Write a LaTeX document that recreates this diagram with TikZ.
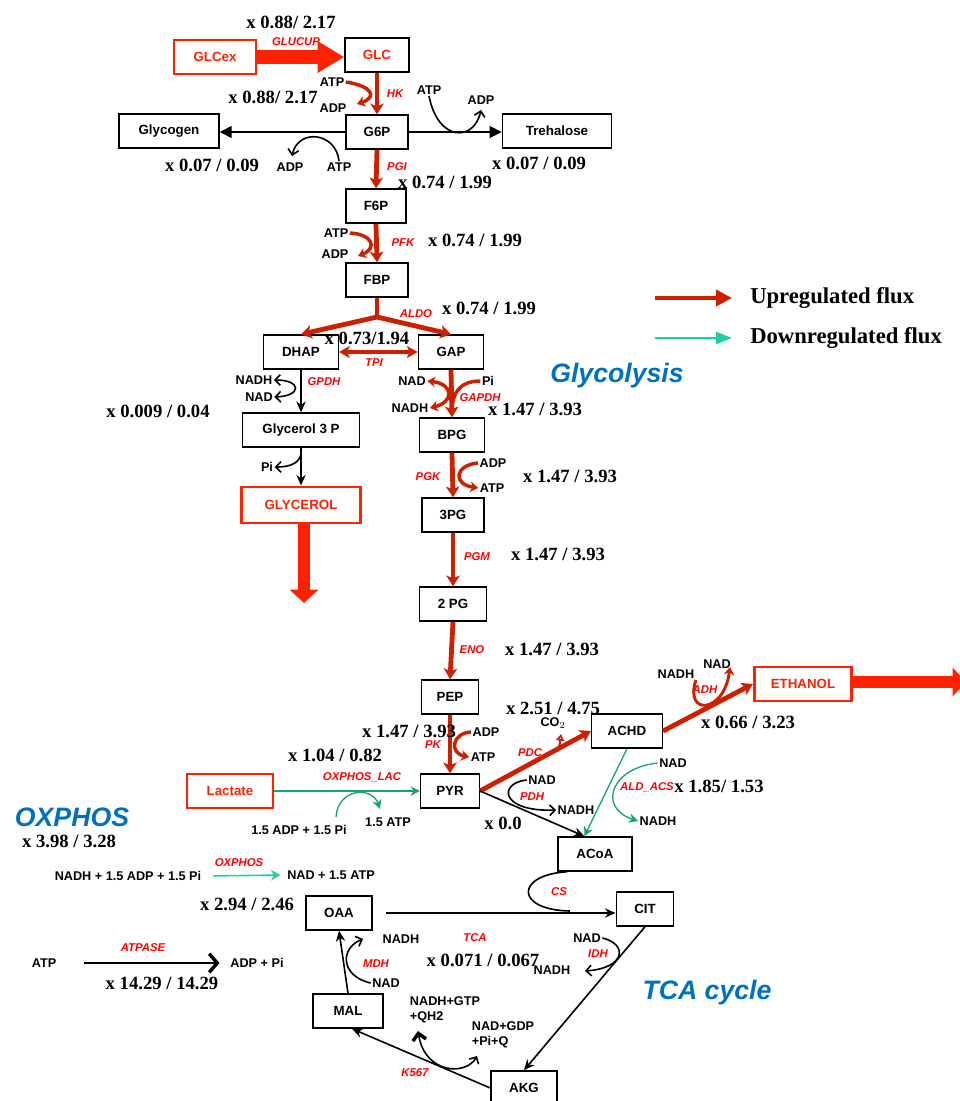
\documentclass[tikz,border=0pt]{standalone}
\usepackage{fontspec}
\setmainfont{Liberation Serif}
\setsansfont{Liberation Sans}
\usetikzlibrary{arrows.meta,calc}
\definecolor{upred}{RGB}{204,32,0}
\definecolor{outred}{RGB}{255,34,0}
\definecolor{enzred}{RGB}{255,0,0}
\definecolor{dnteal}{RGB}{22,163,122}
\definecolor{legteal}{RGB}{30,208,160}
\definecolor{titleblue}{RGB}{0,112,192}
\tikzset{
  met/.style={draw,line width=1.1pt,minimum height=25.5pt,inner sep=0pt,
    font=\sffamily\bfseries\fontsize{10}{12}\selectfont},
  ext/.style={met,draw=outred,line width=2.2pt,text=outred},
  flx/.style={font=\bfseries\fontsize{14}{16}\selectfont,inner sep=0pt},
  enz/.style={text=enzred,font=\sffamily\bfseries\itshape\fontsize{8.5}{9}\selectfont,inner sep=0pt},
  cof/.style={font=\sffamily\bfseries\fontsize{9.5}{11}\selectfont,inner sep=1pt},
  title/.style={text=titleblue,font=\sffamily\bfseries\itshape\fontsize{20}{24}\selectfont},
  legtext/.style={font=\bfseries\fontsize{17}{20}\selectfont,anchor=west,inner sep=0pt},
  up/.style={draw=upred,line width=3.6pt,-{Stealth[length=8pt,width=10pt,inset=2pt]}},
  upside/.style={draw=upred,line width=2.6pt,-{Stealth[length=6pt,width=8pt,inset=2pt]}},
  dn/.style={draw=dnteal,line width=1pt,-{Stealth[length=7pt,width=7pt]}},
  blk/.style={draw=black,line width=1.2pt,-{Stealth[length=8pt,width=7pt]}},
  blkside/.style={draw=black,line width=1.2pt,-{Straight Barb[length=4pt,width=8pt]}},
  fatarrow/.style={draw=outred,line width=9.5pt,-{Triangle[length=10pt,width=21pt]}}
}
\begin{document}
\begin{tikzpicture}[x=0.75pt,y=-0.75pt]
  \useasboundingbox (0,0) rectangle (960,1101);

  % Metabolites
  \node[ext,minimum width=61.5pt] (glcex) at (215,57) {GLCex};
  \node[met,minimum width=48pt,text=outred] (glc) at (377,55) {GLC};
  \node[met,minimum width=46.5pt] (g6p) at (377,132) {G6P};
  \node[met,minimum width=75pt] (glycogen) at (169,131) {Glycogen};
  \node[met,minimum width=82pt] (trehalose) at (557,131) {Trehalose};
  \node[met,minimum width=45pt] (f6p) at (376,206) {F6P};
  \node[met,minimum width=46.5pt] (fbp) at (377,280) {FBP};
  \node[met,minimum width=56pt] (dhap) at (301,352) {DHAP};
  \node[met,minimum width=49pt] (gap) at (451,352) {GAP};
  \node[met,minimum width=88pt] (g3p) at (301,430) {Glycerol 3 P};
  \node[ext,minimum width=89pt,minimum height=27pt] (glycerol) at (301,505) {GLYCEROL};
  \node[met,minimum width=49pt] (bpg) at (452,435) {BPG};
  \node[met,minimum width=46.5pt] (pg3) at (453,515) {3PG};
  \node[met,minimum width=50pt] (pg2) at (453,604) {2 PG};
  \node[met,minimum width=43pt] (pep) at (450,697) {PEP};
  \node[met,minimum width=44pt] (pyr) at (450,791) {PYR};
  \node[met,minimum width=53pt] (achd) at (627,731) {ACHD};
  \node[ext,minimum width=73pt] (ethanol) at (803,684) {ETHANOL};
  \node[met,minimum width=55.5pt] (acoa) at (595,854) {ACoA};
  \node[met,minimum width=43pt] (cit) at (645,909) {CIT};
  \node[met,minimum width=49.5pt] (oaa) at (339,913) {OAA};
  \node[met,minimum width=52.5pt] (mal) at (348,1011) {MAL};
  \node[met,minimum width=49.5pt] (akg) at (524,1088) {AKG};
  \node[ext,minimum width=64.5pt] (lactate) at (230,791) {Lactate};

  % Titles
  \node[title] (glytitle) at (617,376) {Glycolysis};
  \node[title] (oxtitle) at (72,817) {OXPHOS};
  \node[title] (tcatitle) at (707,993) {TCA cycle};

  % Legend
  \coordinate (legupa) at (655,298);
  \coordinate (legupb) at (732,298);
  \coordinate (legdna) at (655,338);
  \coordinate (legdnb) at (732,338);
  \draw[upred,line width=3.7pt,-{Triangle[length=12pt,width=12pt]}] (legupa) -- (legupb);
  \draw[legteal,line width=1.6pt,-{Triangle[length=12pt,width=9pt]}] (legdna) -- (legdnb);
  \node[legtext] (legup) at (750,298) {Upregulated flux};
  \node[legtext] (legdn) at (750,338) {Downregulated flux};

  % Uptake and export
  \draw[draw=outred,line width=10.5pt,-{Triangle[length=20pt,width=22.5pt]}] (glcex.east) -- (glcex.east -| glc.west);
  \node[enz] (glucup) at (296,42) {GLUCUP};
  \node[flx] at (291,22) {x 0.88/ 2.17};
  \coordinate (glyout) at (304,603);
  \draw[fatarrow] (glycerol.south -| glyout) -- (glyout);
  \coordinate (ethout) at (966,682);
  \draw[fatarrow] (ethanol.east |- ethout) -- (ethout);

  % HK
  \draw[up] (glc.south) -- (g6p.north);
  \node[cof] (hkatp) at (332,82) {ATP};
  \node[cof] (hkadp) at (333,108) {ADP};
  \draw[upside] (hkatp.east) .. controls (372,86) and (378,97) .. (357,104);
  \node[enz] at (395,94) {HK};
  \node[flx] at (273,97) {x 0.88/ 2.17};

  % Glycogen
  \draw[draw=black,line width=1.2pt,-{Triangle[length=9pt,width=9pt]}] (g6p.west) -- (g6p.west -| glycogen.east);
  \node[cof] (gyadp) at (290,167) {ADP};
  \node[cof] (gyatp) at (339,167) {ATP};
  \draw[blkside] (gyatp.north) .. controls (336,132) and (298,128) .. (292,156);
  \node[flx] at (212,165) {x 0.07 / 0.09};

  % Trehalose
  \draw[draw=black,line width=1.2pt,-{Triangle[length=9pt,width=9pt]}] (g6p.east) -- (g6p.east -| trehalose.west);
  \node[cof] (tratp) at (429,90) {ATP};
  \node[cof] (tradp) at (481,100) {ADP};
  \draw[blkside] (tratp.south) .. controls (438,142) and (474,142) .. (481,110);
  \node[flx] at (539,163) {x 0.07 / 0.09};

  % PGI
  \draw[up] (g6p.south) -- (f6p.north);
  \node[enz] at (397,167) {PGI};
  \node[flx] at (445,182) {x 0.74 / 1.99};

  % PFK
  \draw[up] (f6p.south) -- (fbp.north);
  \node[cof] (pfkatp) at (336,233) {ATP};
  \node[cof] (pfkadp) at (335,254) {ADP};
  \draw[upside] (pfkatp.east) .. controls (372,234) and (378,248) .. (358,256);
  \node[enz] at (403,243) {PFK};
  \node[flx] at (475,240) {x 0.74 / 1.99};

  % ALDO
  \coordinate (aldo) at (377,317);
  \draw[upred,line width=3.6pt] (fbp.south) -- (aldo);
  \draw[up] (aldo) -- (dhap.north);
  \draw[up] (aldo) -- (gap.north);
  \node[enz] at (416,314) {ALDO};
  \node[flx] at (489,308) {x 0.74 / 1.99};

  % TPI
  \draw[draw=upred,line width=2.8pt,{Stealth[length=8pt,width=9pt,inset=2pt]}-{Stealth[length=8pt,width=9pt,inset=2pt]}] (dhap.east) -- (gap.west);
  \node[enz] at (374,363) {TPI};
  \node[flx] at (367,338) {x 0.73/1.94};

  % GPDH
  \draw[blk] (dhap.south) -- (g3p.north);
  \node[cof] (gpnadh) at (254,380) {NADH};
  \node[cof] (gpnad) at (259,397) {NAD};
  \draw[blkside,{Straight Barb[length=4pt,width=8pt]}-{Straight Barb[length=4pt,width=8pt]}] (gpnadh.east) .. controls (302,380) and (302,396) .. (gpnad.east);
  \node[enz] at (324,382) {GPDH};
  \node[flx] at (158,411) {x 0.009 / 0.04};

  % Glycerol
  \draw[blk] (g3p.south) -- (glycerol.north);
  \node[cof] (g3ppi) at (267,467) {Pi};
  \draw[blkside] ($(g3p.south)!0.15!(glycerol.north)$) .. controls (300,462) and (292,467) .. (g3ppi.east);

  % GAPDH
  \draw[up] (gap.south) -- (bpg.north);
  \node[cof] (gappi) at (488,381) {Pi};
  \node[cof] (gapnad) at (412,381) {NAD};
  \node[cof] (gapnadh) at (410,408) {NADH};
  \draw[upred,line width=2.6pt] (gappi.west) .. controls (458,381) and (453,395) .. (452,408);
  \draw[upside,{Stealth[length=6pt,width=8pt,inset=2pt]}-{Stealth[length=6pt,width=8pt,inset=2pt]}] (gapnad.east) .. controls (454,384) and (454,402) .. (gapnadh.east);
  \node[enz] at (480,398) {GAPDH};
  \node[flx] at (535,409) {x 1.47 / 3.93};

  % PGK
  \draw[up] (bpg.south) -- (pg3.north);
  \node[cof] (pgkadp) at (493,463) {ADP};
  \node[cof] (pgkatp) at (492,488) {ATP};
  \draw[upside] (pgkadp.west) .. controls (455,465) and (452,484) .. (pgkatp.west);
  \node[enz] at (428,477) {PGK};
  \node[flx] at (570,476) {x 1.47 / 3.93};

  % PGM
  \draw[up] (pg3.south) -- (pg2.north);
  \node[enz] at (477,557) {PGM};
  \node[flx] at (558,554) {x 1.47 / 3.93};

  % ENO
  \draw[up] (pg2.south) -- (pep.north);
  \node[enz] at (472,650) {ENO};
  \node[flx] at (552,649) {x 1.47 / 3.93};

  % PK
  \draw[up] (pep.south) -- (pyr.north);
  \node[cof] (pkadp) at (486,732) {ADP};
  \node[cof] (pkatp) at (483,757) {ATP};
  \draw[upside] (pkadp.west) .. controls (452,733) and (449,753) .. (pkatp.west);
  \node[enz] at (433,745) {PK};
  \node[flx] at (409,731) {x 1.47 / 3.93};

  % PDC
  \draw[up] (pyr.east) -- (achd.west);
  \node[cof] (co2) at (553,723) {CO$_2$};
  \draw[upred,line width=1.6pt,-{Triangle[open,length=5pt,width=6pt]}] (559,749) -- (561,734);
  \node[enz] at (530,753) {PDC};
  \node[flx] at (553,708) {x 2.51 / 4.75};

  % PDH
  \coordinate (acoain) at ([xshift=-8pt]acoa.north);
  \draw[blk] (pyr.east) -- (acoain);
  \node[cof] (pdhnad) at (542,780) {NAD};
  \node[cof] (pdhnadh) at (576,810) {NADH};
  \draw[blkside] (pdhnad.west) .. controls (498,783) and (500,812) .. (pdhnadh.west);
  \node[enz] at (532,797) {PDH};
  \node[flx] at (503,823) {x 0.0};

  % ALD_ACS
  \draw[dn] (achd.south) -- (acoain);
  \node[cof] (aldnad) at (673,763) {NAD};
  \node[cof] (aldnadh) at (658,821) {NADH};
  \draw[dn] (aldnad.west) .. controls (610,768) and (598,808) .. (aldnadh.west);
  \node[enz] at (647,787) {ALD\_ACS};
  \node[flx] at (719,786) {x 1.85/ 1.53};

  % ADH
  \draw[up] (achd.east) -- (ethanol.west);
  \node[cof] (adhnadh) at (676,674) {NADH};
  \node[cof] (adhnad) at (717,664) {NAD};
  \draw[upside,line width=2.2pt] (adhnadh.south east) .. controls (684,716) and (724,714) .. (730,667);
  \node[enz] at (705,690) {ADH};
  \node[flx] at (748,722) {x 0.66 / 3.23};

  % OXPHOS_LAC
  \draw[dn] (lactate.east) -- (pyr.west);
  \node[cof] (lacadp) at (299,830) {1.5 ADP + 1.5 Pi};
  \node[cof] (lacatp) at (388,822) {1.5 ATP};
  \draw[dn] (336,817) .. controls (338,788) and (372,786) .. (380,809);
  \node[enz] at (362,777) {OXPHOS\_LAC};
  \node[flx] at (335,755) {x 1.04 / 0.82};

  % OXPHOS
  \node[flx] at (69,841) {x 3.98 / 3.28};
  \node[cof] (oxin) at (128,876) {NADH + 1.5 ADP + 1.5 Pi};
  \node[cof] (oxout) at (331,875) {NAD + 1.5 ATP};
  \draw[legteal,line width=1.2pt,-{Stealth[length=7pt,width=8pt]},shorten <=8pt,shorten >=4pt] (oxin.east) -- (oxout.west);
  \node[enz] at (239,863) {OXPHOS};

  % ATPASE
  \node[cof] (atpa) at (44,963) {ATP};
  \node[cof] (atpb) at (257,963) {ADP + Pi};
  \draw[line width=1.5pt,-{Straight Barb[length=6pt,width=14pt,line width=2.6pt]},shorten <=20pt,shorten >=7pt] (atpa.east) -- (atpb.west);
  \node[enz] at (143,948) {ATPASE};
  \node[flx] at (162,983) {x 14.29 / 14.29};

  % TCA cycle
  \node[flx] at (247,904) {x 2.94 / 2.46};
  \draw[blk,shorten <=10pt] (oaa.east) -- (oaa.east -| cit.west);
  \draw[line width=1.2pt] ([xshift=-21pt]acoa.south) .. controls (515,875) and (515,910) .. (570,911);
  \node[enz] at (559,892) {CS};
  \node[enz] at (475,938) {TCA};
  \node[flx] at (483,960) {x 0.071 / 0.067};

  % IDH
  \draw[blk] (cit.south) -- (akg.north);
  \node[cof] (idhnad) at (587,938) {NAD};
  \node[cof] (idhnadh) at (552,970) {NADH};
  \draw[blkside] (idhnad.east) .. controls (628,944) and (626,968) .. (585,971);
  \node[enz] at (598,954) {IDH};

  % K567
  \draw[blk] (akg.west) -- ([xshift=3pt]mal.south);
  \node[cof,align=left] (kgtp) at (445,1010) {NADH+GTP\\+QH2};
  \node[cof,align=left] (kgdp) at (503,1035) {NAD+GDP\\+Pi+Q};
  \draw[line width=1.2pt,{Straight Barb[length=5pt,width=10pt,line width=2.6pt]}-{Straight Barb[length=4pt,width=8pt]}] (418,1031) .. controls (425,1074) and (466,1076) .. (477,1056);
  \node[enz] at (415,1073) {K567};

  % MDH
  \draw[blk] (mal.north) -- (oaa.south);
  \node[cof] (mdhnadh) at (401,939) {NADH};
  \node[cof] (mdhnad) at (386,983) {NAD};
  \draw[blkside] (mdhnad.west) .. controls (340,976) and (340,948) .. (363,939);
  \node[enz] at (376,964) {MDH};
\end{tikzpicture}
\end{document}
